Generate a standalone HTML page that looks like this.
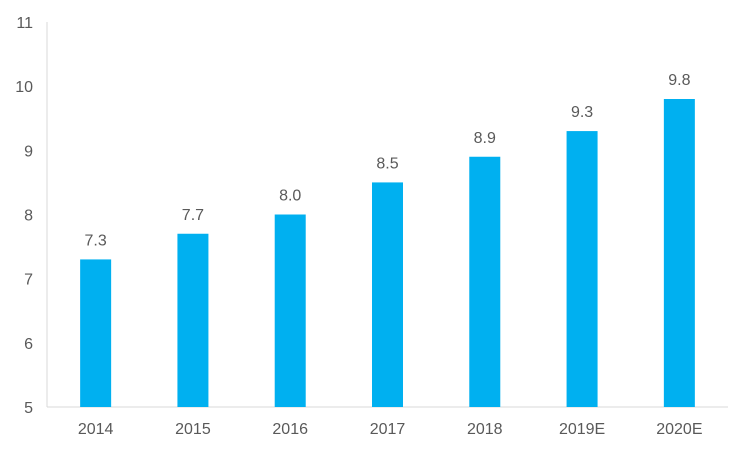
<!DOCTYPE html>
<html><head><meta charset="utf-8"><style>
body{margin:0;background:#fff;}
text{font-family:"Liberation Sans","Noto Sans CJK SC",sans-serif;fill:#595959;font-size:16px;}
</style></head><body>
<svg id="chart" width="750" height="450" xmlns="http://www.w3.org/2000/svg"></svg>
<script>
const categories=["2014","2015","2016","2017","2018","2019E","2020E"];
const values=[7.3,7.7,8.0,8.5,8.9,9.3,9.8];
const labels=["7.3","7.7","8.0","8.5","8.9","9.3","9.8"];
const yTicks=[5,6,7,8,9,10,11];
const svg=document.getElementById('chart');
const NS='http://www.w3.org/2000/svg';
const x0=47,x1=728,yTop=22,yBot=407,yMin=5,yMax=11;
const y=v=>yBot-(v-yMin)/(yMax-yMin)*(yBot-yTop);
const band=(x1-x0)/categories.length;
const xc=i=>x0+band*(i+0.5);
function mk(t,a){const e=document.createElementNS(NS,t);for(const k in a)e.setAttribute(k,a[k]);svg.appendChild(e);return e;}
let ax=mk('line',{x1:x0,y1:yTop,x2:x0,y2:yBot,stroke:'#d9d9d9','stroke-width':1});


let bx=mk('line',{x1:x0,y1:yBot,x2:x1,y2:yBot,stroke:'#d9d9d9','stroke-width':1});


yTicks.forEach(v=>{
 const t=mk('text',{x:x0-14,y:y(v)+6,'text-anchor':'end'});t.textContent=v;
 
 
});
categories.forEach((c,i)=>{
 const w=31;
 const r=mk('rect',{x:xc(i)-w/2,y:y(values[i]),width:w,height:yBot-y(values[i]),fill:'#00b0f0'});
 
 
 const l=mk('text',{x:xc(i),y:y(values[i])-14,'text-anchor':'middle'});l.textContent=labels[i];
 
 
 const t=mk('text',{x:xc(i),y:yBot+27,'text-anchor':'middle'});t.textContent=c;
 
 
});
</script>
</body></html>
